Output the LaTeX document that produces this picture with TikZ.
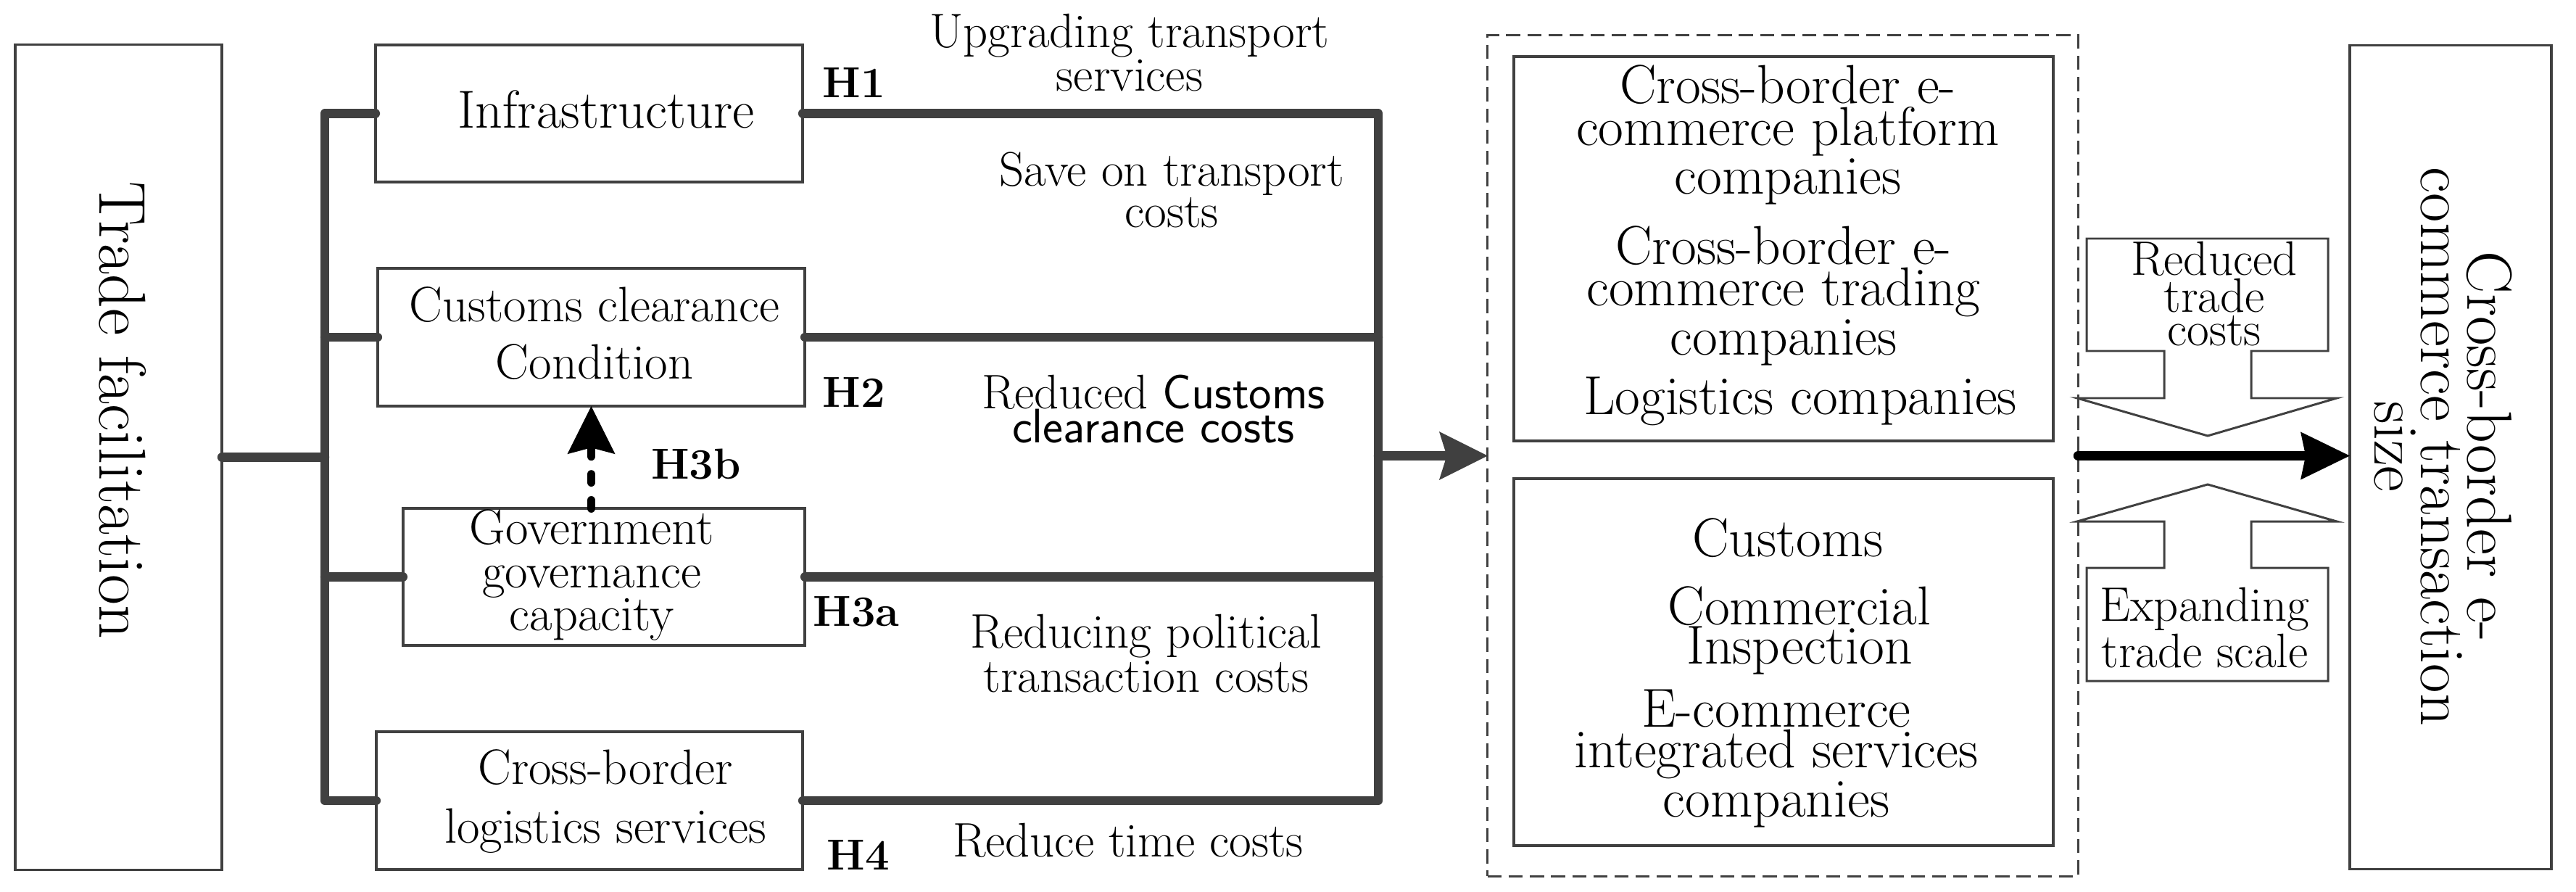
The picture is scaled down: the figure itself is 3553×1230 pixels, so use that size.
\documentclass[tikz,border=0pt]{standalone}
\usetikzlibrary{arrows.meta}
\definecolor{lg}{HTML}{404040}
\begin{document}
\begin{tikzpicture}[x=0.01cm,y=-0.01cm,
  box/.style={draw=lg,line width=1pt,inner sep=0pt,outer sep=0pt},
  conn/.style={draw=lg,line width=3.55pt,line cap=round,line join=round},
  callout/.style={draw=lg,line width=0.85pt,line join=miter},
  hlab/.style={font=\bfseries\fontsize{17}{20}\selectfont,anchor=base,inner sep=0pt},
  txt/.style={align=center,inner sep=0pt}
]
\useasboundingbox (0,0) rectangle (3553,1230);

% ---- left boxes
\node[box,minimum width=2.85cm,minimum height=11.37cm] (tf) at (163.5,630.5) {};
\node[txt,rotate=-90,font=\fontsize{26}{30}\selectfont] (tft) at (169,566) {Trade facilitation};

\node[box,minimum width=5.89cm,minimum height=1.89cm] (infra) at (812.5,156.5) {};
\node[inner sep=0pt,anchor=base,font=\fontsize{21}{24}\selectfont] (infrat) at (836,176) {Infrastructure};

\node[box,minimum width=5.89cm,minimum height=1.90cm] (cust) at (815.5,465) {};
\node[txt,font=\fontsize{19.5}{22.5}\selectfont] (custt) at (820,460) {Customs clearance\\Condition};

\node[box,minimum width=5.54cm,minimum height=1.89cm] (gov) at (833,795.5) {};
\node[txt,font=\fontsize{19.5}{17}\selectfont] (govt) at (816,793) {Government\\governance\\capacity};

\node[box,minimum width=5.88cm,minimum height=1.90cm] (log) at (813,1104) {};
\node[txt,font=\fontsize{19.5}{22.8}\selectfont] (logt) at (835,1105) {Cross-border\\logistics services};

% ---- buses
\coordinate (bus) at (448,0);
\coordinate (rb) at (1901,0);
\draw[conn] (infra.west) -- (infra.west -| bus) -- (log.west -| bus) -- (log.west);
\draw[conn] (cust.west) -- (cust.west -| bus);
\draw[conn] (gov.west) -- (gov.west -| bus);
\draw[conn] (tf.east) -- (tf.east -| bus);

\draw[conn] (infra.east) -- (infra.east -| rb) -- (log.east -| rb) -- (log.east);
\draw[conn] (cust.east) -- (cust.east -| rb);
\draw[conn] (gov.east) -- (gov.east -| rb);

% ---- dashed outer group
\node[box,line width=0.85pt,dash pattern=on 5.5pt off 2.8pt,minimum width=8.14cm,minimum height=11.59cm] (outer) at (2459,628.5) {};
\node[box,minimum width=7.44cm,minimum height=5.30cm] (up) at (2460,343) {};
\node[box,minimum width=7.44cm,minimum height=5.06cm] (low) at (2460,913) {};

\draw[conn,-{Stealth[length=19pt,width=19pt,inset=3pt,line width=0pt]}] (outer.west -| rb) -- (outer.west);

% ---- H labels
\node[hlab] (h1) at (1178,134) {H1};
\node[hlab] (h2) at (1178,561) {H2};
\node[hlab] (h3a) at (1181,863) {H3a};
\node[hlab] (h4) at (1184,1199) {H4};
\node[hlab] (h3b) at (960,660) {H3b};

% ---- H3b dashed arrow
\draw[black,line width=3.4pt,line cap=round,dash pattern=on 3.1pt off 7.1pt,
  -{Stealth[length=18.8pt,width=18.8pt,inset=2.5pt,line width=0pt]}] (gov.north -| cust.south) -- (cust.south);

% ---- middle labels
\node[txt,font=\fontsize{19}{13}\selectfont] (l1) at (1558,72.5) {Upgrading transport\\services};
\node[txt,font=\fontsize{19}{12.8}\selectfont] (l2) at (1616,262) {Save on transport\\costs};
\node[txt,font=\fontsize{19}{13.5}\selectfont] (l3) at (1591,564) {Reduced {\sffamily Customs}\\{\sffamily clearance costs}};
\node[txt,font=\fontsize{19}{13.4}\selectfont] (l4) at (1581,901) {Reducing political\\transaction costs};
\node[inner sep=0pt,anchor=base,font=\fontsize{19}{22}\selectfont] (l5) at (1556,1181) {Reduce time costs};

% ---- inner texts
\node[txt,font=\fontsize{21.5}{14.8}\selectfont] (u1) at (2466,186) {Cross-border e-\\commerce platform\\companies};
\node[txt,font=\fontsize{21.5}{14.6}\selectfont] (u2) at (2460,408) {Cross-border e-\\commerce trading\\companies};
\node[inner sep=0pt,anchor=base,font=\fontsize{21.5}{24}\selectfont] (u3) at (2483,571) {Logistics companies};
\node[inner sep=0pt,anchor=base,font=\fontsize{21.5}{24}\selectfont] (d1) at (2466,767) {Customs};
\node[txt,font=\fontsize{21.5}{15.6}\selectfont] (d2) at (2482,869.5) {Commercial\\Inspection};
\node[txt,font=\fontsize{21.5}{15}\selectfont] (d3) at (2450,1046) {E-commerce\\integrated services\\companies};

% ---- result box
\node[box,minimum width=2.78cm,minimum height=11.35cm] (res) at (3380,630.5) {};
\node[txt,rotate=-90,font=\fontsize{25}{18.2}\selectfont] (rest) at (3370,616) {Cross-border e-\\commerce transaction\\size};

% ---- callout arrows
\draw[callout] (2878,329) -- (3211,329) -- (3211,484) -- (3105,484) -- (3105,549) -- (3223,549)
  -- (3045,601) -- (2865,549) -- (2985,549) -- (2985,484) -- (2878,484) -- cycle;
\draw[callout] (2878,939) -- (3211,939) -- (3211,783) -- (3105,783) -- (3105,719) -- (3223,719)
  -- (3045,668) -- (2865,719) -- (2985,719) -- (2985,783) -- (2878,783) -- cycle;
\node[txt,font=\fontsize{19}{13.2}\selectfont] (c1) at (3054,405) {Reduced\\trade\\costs};
\node[txt,font=\fontsize{19}{12.5}\selectfont] (c2) at (3041,865.5) {Expanding\\trade scale};

\draw[black,line width=3.7pt,line cap=round,-{Stealth[length=19.3pt,width=18.8pt,inset=2pt,line width=0pt]}]
  (outer.east) -- (outer.east -| res.west);
\end{tikzpicture}
\end{document}
